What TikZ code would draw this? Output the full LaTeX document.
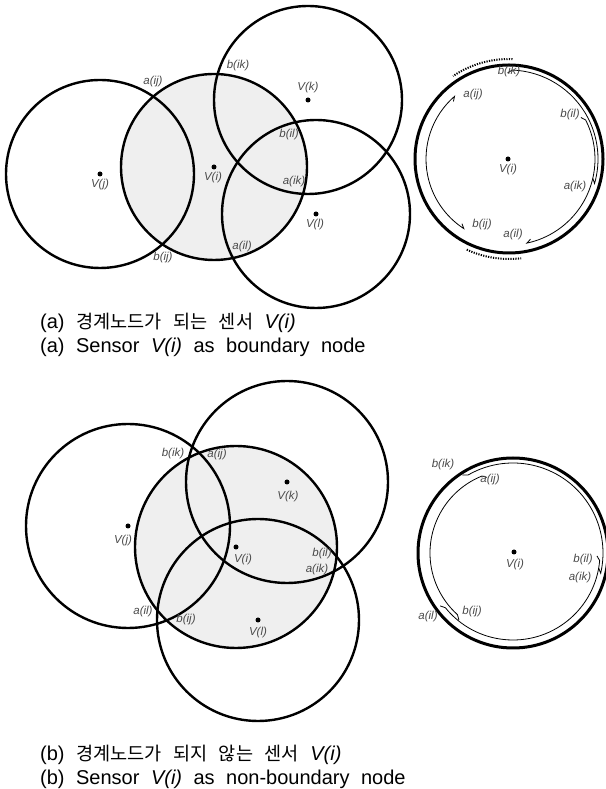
\documentclass[tikz,border=0pt]{standalone}
\usepackage{fontspec}
\setmainfont{Liberation Sans}
\newfontfamily\krfont[Scale=0.93]{Noto Sans CJK KR}
\usetikzlibrary{calc}
\definecolor{areagray}{HTML}{EFEFEF}
\definecolor{labgray}{HTML}{4A4A4A}
\newcommand\capspacing{\spaceskip=11.5pt\relax}

\begin{document}
\begin{tikzpicture}[x=1pt, y=1pt,
  sensor/.style={line width=2.4pt},
  area/.style={fill=areagray},
  dot/.style={circle, fill=black, inner sep=0pt, minimum size=5pt},
  lab/.style={font=\fontsize{11.5}{12}\selectfont\itshape, text=labgray, inner sep=0pt},
  rim/.style={line width=3pt},
  cover/.style={line width=0.8pt},
  gap/.style={line width=2pt, dash pattern=on 1.2pt off 1.3pt},
  captext/.style={font=\fontsize{20}{23}\selectfont\capspacing, anchor=west, inner sep=0pt},
]
\useasboundingbox (0,0) rectangle (605,789);

% (a) sensor v(i) as boundary node
\coordinate (ai) at (214,622);
\coordinate (aj) at (100,615);
\coordinate (ak) at (308,689);
\coordinate (al) at (316,575);
\fill[area] (ai) circle[radius=93pt];
\draw[sensor] (ai) circle[radius=93pt];
\draw[sensor] (aj) circle[radius=94pt];
\draw[sensor] (ak) circle[radius=94pt];
\draw[sensor] (al) circle[radius=94pt];
\node[dot] (ai-dot) at (ai) {};
\node[dot] (aj-dot) at (aj) {};
\node[dot] (ak-dot) at (ak) {};
\node[dot] (al-dot) at (al) {};
\node[lab] (ai-name) at (213,611) {V(i)};
\node[lab] (aj-name) at (100,604) {V(j)};
\node[lab] (ak-name) at (308,701) {V(k)};
\node[lab] (al-name) at (315,564) {V(l)};
\node[lab] (a-aij) at (153,707) {a(ij)};
\node[lab] (a-bij) at (163,531) {b(ij)};
\node[lab] (a-bik) at (238,723) {b(ik)};
\node[lab] (a-bil) at (289,654) {b(il)};
\node[lab] (a-aik) at (294,607) {a(ik)};
\node[lab] (a-ail) at (242,542) {a(il)};

% (a) covered arcs of v(i)
\coordinate (ra) at (509,630);
\draw[rim] (ra) circle[radius=94pt];
\node[dot] (ra-dot) at (508,630) {};
\draw[cover] ($(ra)+(134:80pt)$) -- ($(ra)+(131:83pt)$) arc[start angle=131, end angle=237, radius=83pt] -- ($(ra)+(234:80pt)$);
\draw[cover] ($(ra)+(30:83pt)$) -- ($(ra)+(27:86pt)$) arc[start angle=27, end angle=-78, radius=86pt] -- ($(ra)+(-75:83pt)$);
\draw[cover] ($(ra)+(91:86pt)$) -- ($(ra)+(88:89pt)$) arc[start angle=88, end angle=-16, radius=89pt] -- ($(ra)+(-13:86pt)$);
\draw[gap] ($(ra)+(88:100pt)$) arc[start angle=88, end angle=124, radius=100pt];
\draw[gap] ($(ra)+(245:100pt)$) arc[start angle=245, end angle=277, radius=100pt];
\node[lab] (ra-name) at (508,619) {V(i)};
\node[lab] (ra-bik) at (509,717) {b(ik)};
\node[lab] (ra-aij) at (473,694) {a(ij)};
\node[lab] (ra-bil) at (570,674) {b(il)};
\node[lab] (ra-aik) at (575,602) {a(ik)};
\node[lab] (ra-bij) at (482,564) {b(ij)};
\node[lab] (ra-ail) at (513,554) {a(il)};

\node[captext] (cap-a1) at (40,466) {(a) {\krfont 경계노드가 되는 센서} \textit{V(i)}};
\node[captext] (cap-a2) at (40,442) {(a) Sensor \textit{V(i)} as boundary node};

% (b) sensor v(i) as non-boundary node
\coordinate (bi) at (236,242);
\coordinate (bj) at (128,263);
\coordinate (bk) at (287,307);
\coordinate (bl) at (258,169);
\fill[area] (bi) circle[radius=101pt];
\draw[sensor] (bi) circle[radius=101pt];
\draw[sensor] (bj) circle[radius=102pt];
\draw[sensor] (bk) circle[radius=101pt];
\draw[sensor] (bl) circle[radius=101pt];
\node[dot] (bi-dot) at (bi) {};
\node[dot] (bj-dot) at (bj) {};
\node[dot] (bk-dot) at (bk) {};
\node[dot] (bl-dot) at (bl) {};
\node[lab] (bi-name) at (243,229) {V(i)};
\node[lab] (bj-name) at (123,248) {V(j)};
\node[lab] (bk-name) at (288,292) {V(k)};
\node[lab] (bl-name) at (258,156) {V(l)};
\node[lab] (b-bik) at (173,335) {b(ik)};
\node[lab] (b-aij) at (217,334) {a(ij)};
\node[lab] (b-bil) at (322,235) {b(il)};
\node[lab] (b-aik) at (317,219) {a(ik)};
\node[lab] (b-ail) at (143,177) {a(il)};
\node[lab] (b-bij) at (186,169) {b(ij)};

% (b) covered arcs of v(i)
\coordinate (rb) at (513,236);
\draw[rim] (rb) circle[radius=95pt];
\node[dot] (rb-dot) at (514,237) {};
\draw[cover] ($(rb)+(109:80pt)$) -- ($(rb)+(112:83pt)$) arc[start angle=112, end angle=228, radius=83pt] -- ($(rb)+(231:86pt)$);
\draw[cover] ($(rb)+(216:90pt)$) -- ($(rb)+(219:87pt)$) arc[start angle=219, end angle=355, radius=87pt] -- ($(rb)+(358:84pt)$);
\draw[cover] ($(rb)+(123:93pt)$) -- ($(rb)+(120:90pt)$) arc[start angle=120, end angle=-13, radius=90pt] -- ($(rb)+(-10:87pt)$);
\node[lab] (rb-name) at (515,224) {V(i)};
\node[lab] (rb-bik) at (443,324) {b(ik)};
\node[lab] (rb-aij) at (490,309) {a(ij)};
\node[lab] (rb-bil) at (583,229) {b(il)};
\node[lab] (rb-aik) at (580,211) {a(ik)};
\node[lab] (rb-ail) at (428,172) {a(il)};
\node[lab] (rb-bij) at (472,177) {b(ij)};

\node[captext] (cap-b1) at (40,34) {(b) {\krfont 경계노드가 되지 않는 센서} \textit{V(i)}};
\node[captext] (cap-b2) at (40,10) {(b) Sensor \textit{V(i)} as non-boundary node};
\end{tikzpicture}
\end{document}
